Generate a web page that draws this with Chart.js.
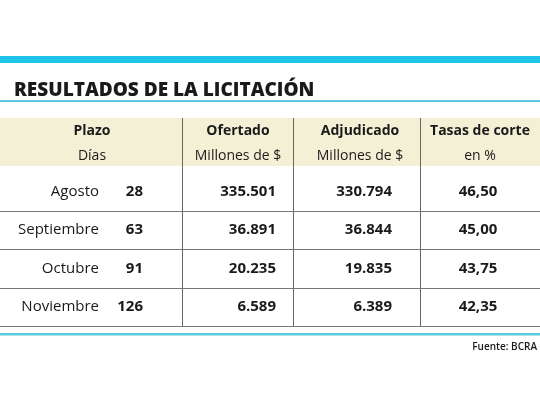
<!DOCTYPE html>
<html><head><meta charset="utf-8">
<script src="https://cdn.jsdelivr.net/npm/chart.js@4"></script>
<style>html,body{margin:0;padding:0;background:#fff}#c{display:block}</style>
</head><body>
<div style="width:540px;height:405px"><canvas id="c" width="540" height="405"></canvas></div>
<script>
const title = 'RESULTADOS DE LA LICITACIÓN';
const headers = ['Plazo','Ofertado','Adjudicado','Tasas de corte'];
const subHeaders = ['Días','Millones de $','Millones de $','en %'];
const months = ['Agosto','Septiembre','Octubre','Noviembre'];
const days = ['28','63','91','126'];
const ofertado = ['335.501','36.891','20.235','6.589'];
const adjudicado = ['330.794','36.844','19.835','6.389'];
const tasas = ['46,50','45,00','43,75','42,35'];
const source = 'Fuente: BCRA';

const CYAN = '#1fc3e8';
const F = '"Open Sans"';
const tablePlugin = {
  id: 'table',
  afterDraw(chart) {
    const ctx = chart.ctx, ys = chart.scales.y, a = chart.chartArea;
    const W = chart.width;
    ctx.save();
    ctx.fillStyle = CYAN; ctx.fillRect(0, 56, W, 7);
    ctx.fillStyle = '#1a1a1a'; ctx.font = '800 19px ' + F; ctx.textBaseline = 'alphabetic';
    ctx.textAlign = 'left'; ctx.fillText(title, 14, 96);
    ctx.fillStyle = '#5cc9dc'; ctx.fillRect(0, 100, W, 2);
    ctx.fillStyle = '#f4f0d6'; ctx.fillRect(0, 118, W, 48);
    const colX = [92, 238, 360, 480];
    ctx.fillStyle = '#1a1a1a'; ctx.textAlign = 'center'; ctx.textBaseline = 'middle';
    headers.forEach((h, i) => { ctx.font = 'bold 14px ' + F; ctx.fillText(h, colX[i], 131); });
    subHeaders.forEach((h, i) => { ctx.font = '14px ' + F; ctx.fillText(h, colX[i], 156); });
    ctx.strokeStyle = '#666'; ctx.lineWidth = 1;
    [182.5, 293.5, 420.5].forEach(x => { ctx.beginPath(); ctx.moveTo(x, 118); ctx.lineTo(x, a.bottom); ctx.stroke(); });
    months.forEach((m, i) => {
      const y = ys.getPixelForValue(i);
      ctx.fillStyle = '#1a1a1a';
      ctx.font = '15px ' + F; ctx.textAlign = 'right'; ctx.fillText(m, 99, y);
      ctx.font = 'bold 15px ' + F; ctx.fillText(days[i], 143, y);
      ctx.fillText(ofertado[i], 276, y);
      ctx.fillText(adjudicado[i], 392, y);
      ctx.textAlign = 'center'; ctx.fillText(tasas[i], 478, y);
      const yb = Math.round(y + (a.bottom - a.top) / months.length / 2) + 0.5;
      ctx.strokeStyle = '#777';
      ctx.beginPath(); ctx.moveTo(0, yb); ctx.lineTo(W, yb); ctx.stroke();
    });
    ctx.fillStyle = '#5cc9dc'; ctx.fillRect(0, 333, W, 2.5);
    ctx.fillStyle = '#1a1a1a'; ctx.font = '600 10px ' + F; ctx.textAlign = 'right';
    ctx.fillText(source, 537, 347);
    ctx.restore();
  }
};

new Chart(document.getElementById('c'), {
  type: 'bar',
  data: { labels: months, datasets: [{ data: months.map(() => 0), backgroundColor: 'rgba(0,0,0,0)' }] },
  options: {
    responsive: false, animation: false, indexAxis: 'y',
    layout: { padding: { left: 0, right: 0, top: 172, bottom: 79 } },
    plugins: { legend: { display: false }, tooltip: { enabled: false } },
    scales: {
      x: { display: false, min: 0, max: 1 },
      y: { type: 'category', display: false, offset: true }
    }
  },
  plugins: [tablePlugin]
});
</script>
</body></html>
